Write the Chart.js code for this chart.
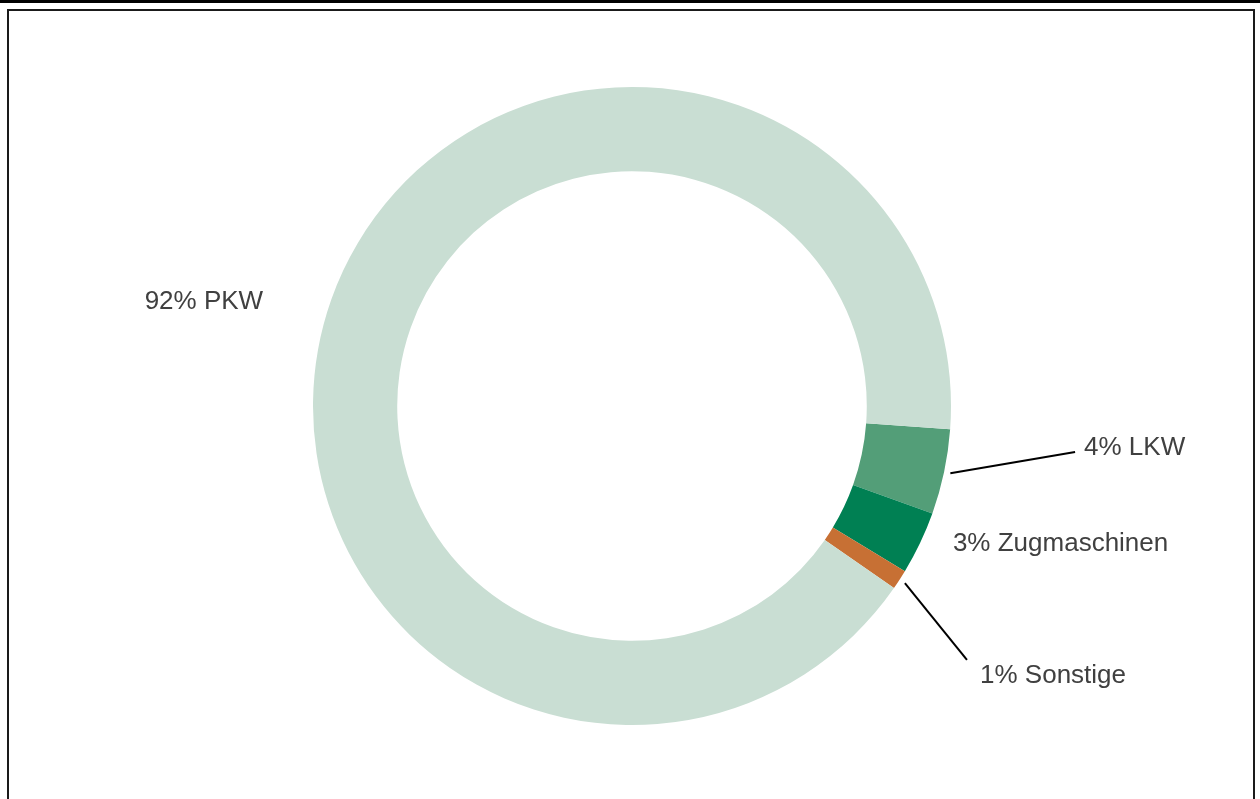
<!DOCTYPE html>
<html>
<head>
<meta charset="utf-8">
<script src="https://cdn.jsdelivr.net/npm/chart.js@4"></script>
<style>
  html, body { margin: 0; padding: 0; background: #fff; overflow: hidden; }
  #wrap { position: relative; width: 1260px; height: 799px; }
  #topbar { position: absolute; left: 0; top: 0; width: 1260px; height: 3px; background: #000; }
  #frame { position: absolute; left: 7px; top: 9px; width: 1244px; height: 820px; border: 2px solid #1a1a1a; }
  canvas { position: absolute; left: 0; top: 0; }
</style>
</head>
<body>
<div id="wrap">
  <div id="topbar"></div>
  <div id="frame"></div>
  <canvas id="chart" width="1260" height="799"></canvas>
</div>
<script>
// Anteile am Fahrzeugbestand (in %)
const categories = ['LKW', 'Zugmaschinen', 'Sonstige', 'PKW'];
const values = [4.3, 3.2, 1.0, 91.5];
const colors = ['#539e78', '#008053', '#c77034', '#c9ded3'];

// Beschriftung relativ zum Ringmittelpunkt, in Einheiten des Außenradius
const labelLayout = [
  { tx: 1.417, ty: 0.131, align: 'left', line: [1.389, 0.144] },
  { tx: 1.006, ty: 0.432, align: 'left', line: null },
  { tx: 1.091, ty: 0.846, align: 'left', line: [1.050, 0.796] },
  { tx: -1.342, ty: -0.326, align: 'center', line: null }
];

const labelPlugin = {
  id: 'outerLabels',
  afterDatasetsDraw(chart) {
    const ctx = chart.ctx;
    const arcs = chart.getDatasetMeta(0).data;
    ctx.save();
    ctx.font = '26px "Liberation Sans", Arial, sans-serif';
    ctx.fillStyle = '#404040';
    ctx.textBaseline = 'middle';
    arcs.forEach((arc, i) => {
      const p = arc.getProps(['x', 'y', 'startAngle', 'endAngle', 'outerRadius'], true);
      const r = p.outerRadius;
      const lay = labelLayout[i];
      if (lay.line) {
        const mid = (p.startAngle + p.endAngle) / 2;
        ctx.beginPath();
        ctx.strokeStyle = '#000';
        ctx.lineWidth = 2;
        ctx.moveTo(p.x + Math.cos(mid) * r * 1.02, p.y + Math.sin(mid) * r * 1.02);
        ctx.lineTo(p.x + lay.line[0] * r, p.y + lay.line[1] * r);
        ctx.stroke();
      }
      ctx.textAlign = lay.align;
      const text = Math.round(values[i]) + '% ' + categories[i];
      ctx.fillText(text, p.x + lay.tx * r, p.y + lay.ty * r);
    });
    ctx.restore();
  }
};

new Chart(document.getElementById('chart').getContext('2d'), {
  type: 'doughnut',
  data: {
    labels: categories,
    datasets: [{
      data: values,
      backgroundColor: colors,
      borderWidth: 0,
      hoverOffset: 0
    }]
  },
  options: {
    responsive: false,
    animation: false,
    rotation: 94.2,
    cutout: '73.6%',
    layout: {
      padding: { left: 313, right: 309, top: 87, bottom: 74 }
    },
    plugins: {
      legend: { display: false },
      tooltip: { enabled: false }
    }
  },
  plugins: [labelPlugin]
});
</script>
</body>
</html>
